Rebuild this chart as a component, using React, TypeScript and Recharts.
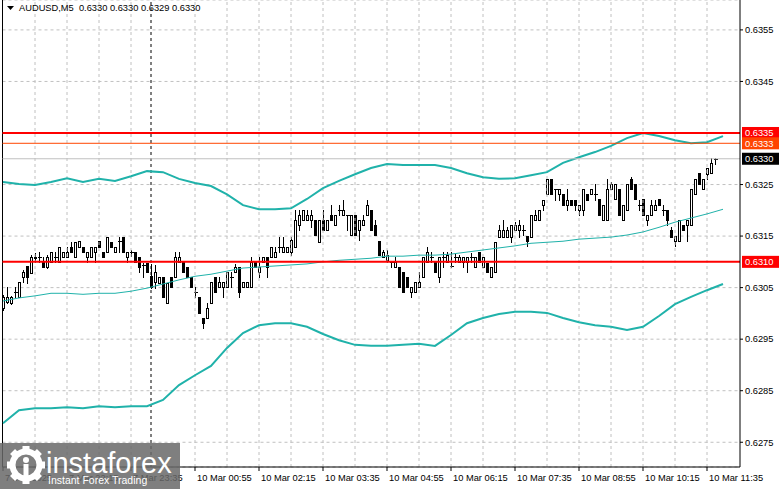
import {
  ComposedChart,
  Bar,
  Line,
  XAxis,
  YAxis,
  CartesianGrid,
  ReferenceLine,
} from 'recharts';

// AUDUSD M5 candles, 7 Mar 20:55 .. 10 Mar 11:45
const opens = [
  0.6301, 0.63022, 0.6302, 0.63041, 0.63032, 0.6307, 0.63092, 0.63078, 0.63107, 0.63109,
  0.631, 0.6309, 0.631, 0.63109, 0.631, 0.63109, 0.63109, 0.63129, 0.63109, 0.63129,
  0.63129, 0.63109, 0.63109, 0.63119, 0.6314, 0.63119, 0.63119, 0.63138, 0.63119, 0.6314,
  0.63148, 0.63109, 0.63119, 0.63119, 0.63109, 0.63094, 0.63098, 0.63072, 0.63061, 0.63059,
  0.6307, 0.6302, 0.6307, 0.6307, 0.631, 0.631, 0.6309, 0.6307, 0.63041, 0.63032,
  0.62991, 0.62991, 0.6302, 0.6307, 0.63051, 0.63051, 0.63051, 0.6307, 0.6308, 0.6309,
  0.63051, 0.63051, 0.63051, 0.631, 0.6308, 0.631, 0.63109, 0.63109, 0.63109, 0.63129,
  0.63119, 0.63119, 0.63119, 0.63129, 0.63171, 0.63181, 0.63181, 0.63181, 0.63181, 0.63138,
  0.63181, 0.63162, 0.63191, 0.63171, 0.632, 0.63191, 0.63191, 0.63152, 0.63191, 0.63162,
  0.63171, 0.63191, 0.632, 0.63171, 0.6314, 0.63109, 0.63103, 0.631, 0.6309, 0.6309,
  0.6308, 0.6307, 0.63041, 0.63041, 0.63051, 0.6307, 0.631, 0.63109, 0.631, 0.6307,
  0.63109, 0.631, 0.63092, 0.63109, 0.631, 0.631, 0.631, 0.63109, 0.6309, 0.63119,
  0.6309, 0.63098, 0.6307, 0.6308, 0.63148, 0.63148, 0.63148, 0.63148, 0.63162, 0.63162,
  0.63162, 0.6315, 0.63148, 0.63181, 0.63181, 0.6321, 0.63231, 0.63261, 0.63241, 0.63231,
  0.63231, 0.6321, 0.6322, 0.6322, 0.632, 0.632, 0.63231, 0.63231, 0.63231, 0.63222,
  0.63181, 0.63181, 0.63241, 0.63222, 0.63241, 0.63181, 0.632, 0.63261, 0.63251, 0.6321,
  0.63222, 0.63181, 0.63191, 0.632, 0.63222, 0.632, 0.632, 0.63162, 0.6314, 0.6314,
  0.63171, 0.63171, 0.63171, 0.63231, 0.63272, 0.63241, 0.6327, 0.63272, 0.633,
];
const highs = [
  0.63036, 0.63051, 0.63034, 0.63051, 0.63061, 0.63084, 0.63092, 0.63113, 0.63117, 0.63119,
  0.63109, 0.63113, 0.63119, 0.63119, 0.63129, 0.63119, 0.63129, 0.63138, 0.63138, 0.6314,
  0.63129, 0.63119, 0.63129, 0.63129, 0.6314, 0.63119, 0.63148, 0.63138, 0.63129, 0.63148,
  0.63148, 0.63119, 0.63123, 0.63119, 0.63109, 0.63098, 0.63098, 0.63096, 0.63094, 0.6307,
  0.6307, 0.63059, 0.6307, 0.63119, 0.63119, 0.631, 0.6309, 0.6307, 0.63051, 0.63032,
  0.62991, 0.6302, 0.63061, 0.6307, 0.6307, 0.63061, 0.6308, 0.6308, 0.63096, 0.6309,
  0.63061, 0.63061, 0.63109, 0.631, 0.63109, 0.63109, 0.63109, 0.63129, 0.63129, 0.63148,
  0.63148, 0.63129, 0.63148, 0.632, 0.632, 0.632, 0.632, 0.632, 0.63181, 0.63181,
  0.632, 0.63181, 0.6321, 0.63191, 0.6321, 0.6322, 0.63191, 0.63191, 0.63191, 0.63181,
  0.63191, 0.6322, 0.632, 0.63181, 0.6314, 0.63123, 0.63123, 0.631, 0.63109, 0.6309,
  0.6308, 0.6307, 0.63051, 0.63061, 0.6308, 0.63109, 0.63129, 0.63119, 0.631, 0.63109,
  0.63119, 0.63119, 0.63119, 0.63115, 0.63113, 0.63109, 0.63109, 0.63117, 0.63109, 0.63119,
  0.63109, 0.63098, 0.6309, 0.63138, 0.63171, 0.63181, 0.63167, 0.63171, 0.63177, 0.63181,
  0.63171, 0.6315, 0.63191, 0.632, 0.632, 0.6322, 0.63261, 0.63261, 0.63241, 0.63241,
  0.63231, 0.63241, 0.6322, 0.6322, 0.6321, 0.63241, 0.63231, 0.63241, 0.63251, 0.63222,
  0.6321, 0.63261, 0.63255, 0.63251, 0.63241, 0.6321, 0.63251, 0.63264, 0.63251, 0.6322,
  0.63222, 0.63191, 0.6322, 0.6322, 0.63222, 0.6321, 0.632, 0.63167, 0.6315, 0.63181,
  0.63171, 0.63181, 0.63241, 0.63261, 0.63272, 0.63261, 0.63282, 0.63301, 0.63302,
];
const lows = [
  0.63006, 0.6302, 0.63018, 0.63032, 0.63032, 0.63061, 0.63059, 0.63078, 0.631, 0.631,
  0.6309, 0.63088, 0.631, 0.631, 0.631, 0.63109, 0.63109, 0.63119, 0.63109, 0.63129,
  0.63119, 0.631, 0.63109, 0.631, 0.63129, 0.63109, 0.63119, 0.63129, 0.63119, 0.63119,
  0.63119, 0.631, 0.63111, 0.631, 0.6308, 0.6307, 0.6308, 0.63049, 0.63049, 0.63059,
  0.63032, 0.6302, 0.63051, 0.6307, 0.631, 0.6308, 0.6307, 0.63051, 0.63032, 0.63001,
  0.62972, 0.62991, 0.6302, 0.63041, 0.63051, 0.63032, 0.63051, 0.63051, 0.6308, 0.63032,
  0.63051, 0.63051, 0.63051, 0.6309, 0.6307, 0.631, 0.6307, 0.63109, 0.63109, 0.63119,
  0.63119, 0.63119, 0.63113, 0.63129, 0.63162, 0.63181, 0.63181, 0.63167, 0.63152, 0.63138,
  0.63162, 0.63162, 0.63181, 0.63171, 0.63191, 0.63191, 0.63162, 0.63152, 0.63152, 0.63142,
  0.63171, 0.63191, 0.63162, 0.63152, 0.63113, 0.63109, 0.631, 0.6309, 0.6309, 0.63051,
  0.63041, 0.63051, 0.63032, 0.63041, 0.63051, 0.6307, 0.631, 0.631, 0.6308, 0.63061,
  0.6309, 0.631, 0.6309, 0.631, 0.631, 0.6309, 0.6308, 0.631, 0.6309, 0.631,
  0.6309, 0.6308, 0.6307, 0.6308, 0.63148, 0.63148, 0.63148, 0.63138, 0.63162, 0.63148,
  0.63152, 0.63131, 0.63148, 0.63181, 0.63181, 0.632, 0.63231, 0.63231, 0.6322, 0.6322,
  0.6321, 0.632, 0.6321, 0.632, 0.63191, 0.63191, 0.6322, 0.63231, 0.6322, 0.63191,
  0.63181, 0.63181, 0.63241, 0.63222, 0.63191, 0.63181, 0.632, 0.63241, 0.63222, 0.632,
  0.63191, 0.63171, 0.63191, 0.632, 0.6321, 0.63191, 0.63171, 0.63148, 0.63131, 0.6314,
  0.63162, 0.6314, 0.63171, 0.63231, 0.63251, 0.63241, 0.63261, 0.63272, 0.6329,
];
const closes = [
  0.63032, 0.63032, 0.63032, 0.63041, 0.63061, 0.6308, 0.6307, 0.63109, 0.63109, 0.63109,
  0.6309, 0.63109, 0.63119, 0.63109, 0.63129, 0.63119, 0.63119, 0.63119, 0.63138, 0.6314,
  0.63119, 0.63119, 0.63129, 0.63129, 0.63129, 0.63109, 0.63148, 0.63129, 0.63129, 0.6314,
  0.63119, 0.63119, 0.63119, 0.631, 0.6309, 0.63094, 0.6308, 0.63051, 0.6308, 0.6307,
  0.63032, 0.63059, 0.63051, 0.63109, 0.63109, 0.6308, 0.6307, 0.63051, 0.63041, 0.63001,
  0.62981, 0.6301, 0.63061, 0.63041, 0.63061, 0.63061, 0.6308, 0.6307, 0.6309, 0.63041,
  0.63061, 0.63061, 0.631, 0.6309, 0.6309, 0.63109, 0.6309, 0.63129, 0.63119, 0.63129,
  0.63129, 0.63129, 0.63142, 0.63181, 0.63191, 0.632, 0.63191, 0.63191, 0.63152, 0.63181,
  0.63162, 0.63181, 0.63181, 0.63191, 0.632, 0.632, 0.63191, 0.63191, 0.63152, 0.63181,
  0.63181, 0.6321, 0.63162, 0.63152, 0.63113, 0.63119, 0.63113, 0.631, 0.631, 0.63051,
  0.63041, 0.63051, 0.63051, 0.63061, 0.63061, 0.63109, 0.63119, 0.63109, 0.6308, 0.63109,
  0.63109, 0.63113, 0.63092, 0.63109, 0.63109, 0.63109, 0.63109, 0.63109, 0.63109, 0.631,
  0.63109, 0.6308, 0.6309, 0.63138, 0.63162, 0.63162, 0.63162, 0.63171, 0.63171, 0.63171,
  0.63162, 0.6314, 0.63191, 0.63191, 0.632, 0.6322, 0.63261, 0.63231, 0.63241, 0.63241,
  0.6321, 0.6322, 0.6321, 0.6321, 0.6321, 0.63241, 0.6322, 0.63241, 0.63231, 0.63191,
  0.6321, 0.63241, 0.63251, 0.63251, 0.63191, 0.6321, 0.63251, 0.63241, 0.63222, 0.6321,
  0.63191, 0.63191, 0.6321, 0.6321, 0.6321, 0.632, 0.63181, 0.63148, 0.6315, 0.63181,
  0.63162, 0.63181, 0.63241, 0.63261, 0.63251, 0.63261, 0.63282, 0.63292, 0.633,
];

// Bollinger bands, read every 4th bar (indicator is shifted 2 bars right)
const bandStep = 4;
const bandUpper = [
  0.63255, 0.63251, 0.63249, 0.63255, 0.63262, 0.63255, 0.63261, 0.63257, 0.63266, 0.63276,
  0.63274, 0.63261, 0.63253, 0.63247, 0.63231, 0.6321, 0.63202, 0.63202, 0.63204, 0.63222,
  0.63243, 0.63257, 0.6327, 0.63282, 0.6329, 0.63288, 0.63288, 0.63288, 0.63282, 0.63272,
  0.63264, 0.63261, 0.63262, 0.63268, 0.63274, 0.63292, 0.63303, 0.63313, 0.63325, 0.6334,
  0.6335, 0.63344, 0.63336, 0.6333, 0.63332, 0.63344,
];
const bandMiddle = [
  0.63024, 0.6303, 0.63034, 0.63039, 0.63039, 0.63037, 0.63039, 0.63039, 0.63043, 0.63049,
  0.63057, 0.63065, 0.63072, 0.63076, 0.63082, 0.63088, 0.6309, 0.63092, 0.63094, 0.63096,
  0.631, 0.63103, 0.63105, 0.63107, 0.63111, 0.63111, 0.63113, 0.63113, 0.63115, 0.63119,
  0.63123, 0.63127, 0.63131, 0.63136, 0.63138, 0.6314, 0.63144, 0.63146, 0.63148, 0.63152,
  0.63158, 0.63167, 0.63177, 0.63185, 0.63193, 0.63202,
];
const bandLower = [
  0.62787, 0.62812, 0.62816, 0.62816, 0.62818, 0.62816, 0.6282, 0.62818, 0.6282, 0.6282,
  0.62832, 0.62861, 0.6288, 0.62898, 0.62933, 0.62962, 0.62977, 0.62981, 0.62981, 0.62974,
  0.6296, 0.62948, 0.62939, 0.62937, 0.62937, 0.62939, 0.62941, 0.62937, 0.62958, 0.62981,
  0.62991, 0.62999, 0.63003, 0.63003, 0.63001, 0.62991, 0.62983, 0.62977, 0.62974, 0.62968,
  0.62974, 0.62995, 0.63018, 0.63032, 0.63045, 0.63057,
];

const timeTickIdx = [0, 16, 32, 48, 64, 80, 96, 112, 128, 144, 160, 176];
const timeTickLabels = [
  '7 Mar 2025', '7 Mar 22:15', '7 Mar 23:35', '10 Mar 00:55', '10 Mar 02:15', '10 Mar 03:35',
  '10 Mar 04:55', '10 Mar 06:15', '10 Mar 07:35', '10 Mar 08:55', '10 Mar 10:15', '10 Mar 11:35',
];
const gridIdx = [8, 16, 24, 32, 48, 56, 64, 72, 80, 88, 96, 104, 112, 120, 128, 136, 144, 152, 160, 168, 176];
const separatorIdx = 37;
const priceTicks = [0.6275, 0.6285, 0.6295, 0.6305, 0.6315, 0.6325, 0.6345, 0.6355];

const levels = [
  { price: 0.6335, color: '#ff0000', width: 2, box: '#ff0000' },
  { price: 0.6333, color: '#ff4500', width: 1, box: '#ff4500' },
  { price: 0.633, color: '#c0c0c0', width: 1, box: '#000000' },
  { price: 0.631, color: '#ff0000', width: 2, box: '#ff0000' },
];

const FONT = '"Liberation Sans", Arial, sans-serif';
const FS = 9.3;
const BAND = '#20b2aa';

const rows = Array.from({ length: 181 }, (_, i) => ({
  i,
  range: i < opens.length ? [lows[i], highs[i]] : null,
  o: opens[i],
  h: highs[i],
  l: lows[i],
  c: closes[i],
  up: i % bandStep === 0 ? bandUpper[i / bandStep] : null,
  mid: i % bandStep === 0 ? bandMiddle[i / bandStep] : null,
  low: i % bandStep === 0 ? bandLower[i / bandStep] : null,
}));

const Candle = (props: any) => {
  const { x, y, width, height, payload } = props;
  if (!payload || payload.o == null || !isFinite(y) || !isFinite(height)) return null;
  const { o, h, l, c } = payload;
  const k = h > l ? height / (h - l) : 0;
  const yOf = (v: number) => Math.round(y + (h - v) * k);
  const left = Math.round(x + width / 2) - 1;
  const top = yOf(Math.max(o, c));
  const bot = yOf(Math.min(o, c));
  const wick = (
    <line x1={left + 1.5} x2={left + 1.5} y1={Math.round(y)} y2={Math.round(y + height) + 1} stroke="#000" strokeWidth={1} />
  );
  let body;
  if (o === c || bot - top < 1) {
    body = <line x1={left - 0.5} x2={left + 3.5} y1={top + 0.5} y2={top + 0.5} stroke="#000" strokeWidth={1} />;
  } else if (c > o) {
    body = <rect x={left + 0.5} y={top + 0.5} width={2} height={bot - top} fill="#fff" stroke="#000" strokeWidth={1} />;
  } else {
    body = <rect x={left} y={top} width={3} height={bot - top + 1} fill="#000" />;
  }
  return (
    <g shapeRendering="crispEdges">
      {wick}
      {body}
    </g>
  );
};

const TimeTick = (props: any) => {
  const { x, y, payload } = props;
  const idx = timeTickIdx.indexOf(payload.value);
  return (
    <text x={x + 2} y={y + 8} fontSize={FS} fontFamily={FONT} fill="#000" textAnchor="start">
      {idx >= 0 ? timeTickLabels[idx] : ''}
    </text>
  );
};

const priceBox = (price: number, bg: string) => (props: any) => {
  const vb = props.viewBox;
  if (!vb) return null;
  const bx = vb.x + vb.width + 2;
  return (
    <g>
      <rect x={bx} y={vb.y - 6} width={37} height={12} fill={bg} />
      <text x={bx + 3} y={vb.y + 3.5} fill="#fff" fontSize={FS} fontFamily={FONT}>
        {price.toFixed(4)}
      </text>
    </g>
  );
};

function Watermark() {
  const teeth = [0, 45, 90, 135, 180, 225, 270, 315];
  return (
    <svg width={180} height={46} style={{ position: 'absolute', left: 0, top: 443 }}>
      <rect x={0} y={0} width={180} height={46} fill="rgba(105,105,105,0.85)" />
      <g transform="translate(26,22)" fill="#fff">
        {teeth.map((a) => (
          <rect key={a} x={-3.5} y={-19} width={7} height={7} transform={`rotate(${a})`} />
        ))}
        <circle r={13.5} fill="none" stroke="#fff" strokeWidth={6} />
        <circle cx={0} cy={-5} r={3} />
        <rect x={-2.5} y={-1} width={5} height={13} />
      </g>
      <text x={46} y={30} fill="#fff" fontSize={29} fontFamily={FONT}>
        instaforex
      </text>
      <text x={48} y={41} fill="#fff" fontSize={10.5} fontFamily={FONT}>
        Instant Forex Trading
      </text>
    </svg>
  );
}

export default function App() {
  return (
    <div style={{ position: 'absolute', left: 0, top: 0, width: 781, height: 489, background: '#fff', overflow: 'hidden' }}>
      <ComposedChart width={781} height={489} data={rows} margin={{ top: 0, right: 0, bottom: 0, left: 2.5 }}>
        <CartesianGrid vertical={false} stroke="#c0c0c0" strokeDasharray="3 3" />
        {gridIdx.map((g) => (
          <ReferenceLine key={`g${g}`} x={g} stroke="#c0c0c0" strokeDasharray="3 3" />
        ))}
        <ReferenceLine x={separatorIdx} stroke="#000" strokeDasharray="3 3" />
        <ReferenceLine x={-0.125} stroke="#000" />
        <XAxis
          dataKey="i"
          type="number"
          domain={[-0.125, 184.25]}
          ticks={timeTickIdx}
          interval={0}
          allowDataOverflow
          height={22}
          tickSize={4}
          axisLine={{ stroke: '#000' }}
          tickLine={{ stroke: '#000' }}
          tick={<TimeTick />}
        />
        <YAxis
          orientation="right"
          type="number"
          domain={[0.62702, 0.63608]}
          ticks={priceTicks}
          allowDataOverflow
          width={41}
          tickSize={3}
          axisLine={{ stroke: '#000' }}
          tickLine={{ stroke: '#000' }}
          tickFormatter={(v: number) => v.toFixed(4)}
          tick={{ fontSize: FS, fontFamily: FONT, fill: '#000' }}
        />
        <Bar dataKey="range" barSize={3} shape={<Candle />} isAnimationActive={false} />
        <Line dataKey="up" stroke={BAND} strokeWidth={2} dot={false} activeDot={false} connectNulls isAnimationActive={false} />
        <Line dataKey="mid" stroke={BAND} strokeWidth={1} dot={false} activeDot={false} connectNulls isAnimationActive={false} />
        <Line dataKey="low" stroke={BAND} strokeWidth={2} dot={false} activeDot={false} connectNulls isAnimationActive={false} />
        {levels.map((lv) => (
          <ReferenceLine
            key={`lv${lv.price}`}
            y={lv.price}
            stroke={lv.color}
            strokeWidth={lv.width}
            label={priceBox(lv.price, lv.box)}
          />
        ))}
      </ComposedChart>
      <div
        style={{
          position: 'absolute',
          left: 6,
          top: 2,
          fontFamily: FONT,
          fontSize: FS,
          color: '#000',
          whiteSpace: 'pre',
          display: 'flex',
          alignItems: 'center',
        }}
      >
        <svg width={12} height={12} style={{ marginRight: 1 }}>
          <polygon points="1,4 8,4 4.5,8" fill="#000" />
        </svg>
        <span>{'AUDUSD,M5  0.6330 0.6330 0.6329 0.6330'}</span>
      </div>
      <Watermark />
    </div>
  );
}
